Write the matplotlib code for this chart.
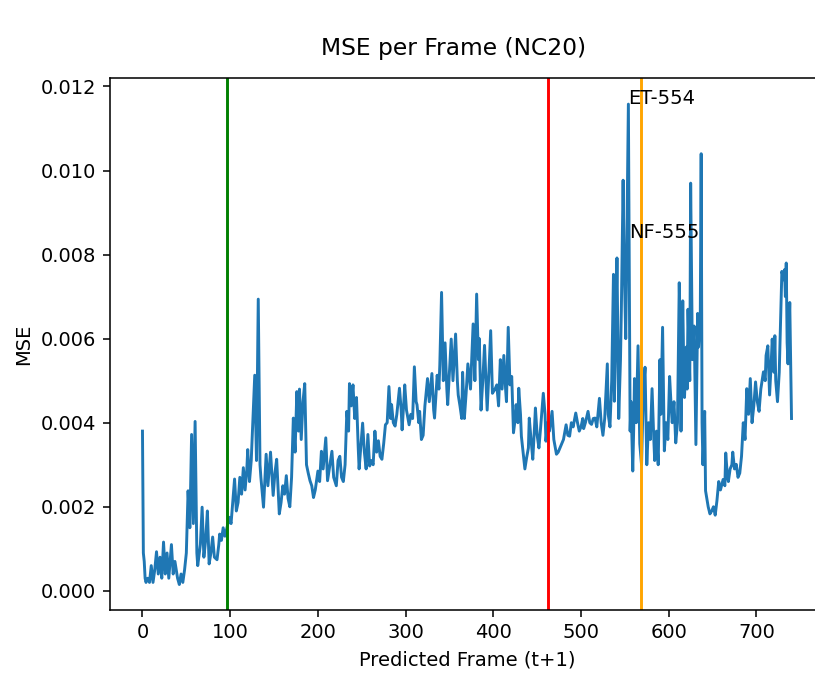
import matplotlib
matplotlib.use('Agg')
import matplotlib.pyplot as plt

# 读取的数据点 (frame, MSE)
frames = [0, 1, 2, 3, 4, 6, 8, 10, 12, 14, 16, 18, 20, 22, 24, 26, 28, 30, 33, 35,
          37, 40, 42, 44, 46, 48, 50, 52, 54, 56, 58, 60, 62, 63, 66, 68, 70, 72, 74, 76,
          78, 80, 82, 85, 87, 88, 90, 92, 94, 96, 99, 101, 105, 107, 109, 111, 113, 115, 117, 119,
          120, 122, 124, 128, 130, 132, 134, 135, 138, 141, 143, 146, 149, 151, 153, 156, 158, 160, 162, 164,
          166, 168, 170, 172, 174, 176, 178, 179, 181, 183, 185, 187, 189, 191, 193, 195, 197, 200, 202, 204,
          206, 209, 211, 213, 216, 218, 221, 223, 225, 227, 229, 231, 233, 235, 236, 238, 240, 242, 244, 246,
          247, 251, 253, 255, 257, 259, 261, 263, 265, 267, 269, 271, 273, 275, 277, 279, 281, 283, 284, 286,
          288, 290, 293, 295, 296, 298, 299, 301, 304, 306, 308, 310, 312, 313, 315, 316, 318, 320, 322, 325,
          327, 330, 332, 333, 336, 338, 339, 341, 343, 345, 347, 348, 350, 352, 354, 357, 359, 360, 362, 364,
          365, 367, 369, 371, 374, 377, 379, 381, 383, 384, 386, 388, 390, 392, 393, 395, 397, 399, 402, 404,
          406, 408, 410, 412, 414, 415, 417, 419, 421, 423, 425, 426, 428, 429, 431, 432, 434, 436, 438, 440,
          441, 443, 445, 447, 448, 450, 452, 454, 457, 459, 460, 462, 464, 467, 469, 472, 474, 476, 478, 480,
          483, 485, 487, 489, 491, 494, 496, 498, 500, 502, 503, 505, 508, 510, 512, 514, 516, 518, 521, 523,
          525, 527, 530, 531, 533, 535, 537, 538, 540, 541, 543, 545, 546, 548, 549, 551, 552, 554, 556, 557,
          559, 560, 561, 563, 565, 567, 569, 571, 573, 575, 577, 579, 581, 583, 584, 586, 588, 590, 591, 593,
          595, 597, 599, 601, 603, 604, 606, 608, 610, 612, 613, 614, 616, 617, 618, 620, 621, 622, 624, 625,
          627, 629, 631, 633, 634, 636, 637, 638, 639, 641, 642, 645, 647, 649, 651, 653, 655, 657, 659, 662,
          664, 665, 667, 668, 670, 672, 673, 675, 677, 679, 681, 683, 685, 687, 689, 691, 693, 695, 697, 699,
          701, 703, 705, 708, 710, 711, 713, 715, 717, 718, 720, 721, 722, 724, 726, 729, 731, 732, 733, 734,
          735, 736, 738, 740]
mse = [0.0038, 0.0009, 0.0007, 0.0003, 0.0002, 0.0003, 0.0002, 0.0006, 0.0002, 0.0005,
       0.00093, 0.0004, 0.0008, 0.0003, 0.00116, 0.0004, 0.0009, 0.0003, 0.0011, 0.0004,
       0.0007, 0.0003, 0.00015, 0.0004, 0.0002, 0.0005, 0.0009, 0.00238, 0.0015, 0.00372,
       0.0016, 0.00403, 0.0009, 0.0006, 0.0011, 0.00199, 0.0008, 0.0012, 0.0019, 0.00064,
       0.0009, 0.00128, 0.0008, 0.00074, 0.0011, 0.00135, 0.0012, 0.0015, 0.0013, 0.00147,
       0.00175, 0.0016, 0.00266, 0.0019, 0.0021, 0.0027, 0.0023, 0.00293, 0.0024, 0.0029,
       0.00336, 0.0026, 0.0031, 0.00513, 0.0031, 0.00694, 0.0030, 0.0027, 0.00199, 0.00325,
       0.0025, 0.0033, 0.00227, 0.0028, 0.00313, 0.00183, 0.0021, 0.0025, 0.0023, 0.00274,
       0.0022, 0.0020, 0.0027, 0.00411, 0.0033, 0.00474, 0.0038, 0.0048, 0.0036, 0.0045,
       0.00493, 0.0030, 0.0028, 0.00262, 0.0025, 0.00222, 0.0024, 0.00285, 0.0026, 0.00332,
       0.0029, 0.00364, 0.00262, 0.0029, 0.00332, 0.0027, 0.0025, 0.0031, 0.0032, 0.0027,
       0.0026, 0.0030, 0.00427, 0.0038, 0.00493, 0.0044, 0.0049, 0.0041, 0.0046, 0.0034,
       0.0029, 0.00399, 0.0033, 0.0029, 0.00372, 0.00297, 0.0031, 0.0030, 0.0038, 0.0033,
       0.00357, 0.0032, 0.00313, 0.0035, 0.00395, 0.0040, 0.00486, 0.0041, 0.00443, 0.0040,
       0.00392, 0.0042, 0.00482, 0.0043, 0.00383, 0.0045, 0.0049, 0.0043, 0.00395, 0.0042,
       0.0041, 0.00533, 0.0045, 0.00443, 0.0040, 0.00427, 0.0036, 0.0037, 0.0044, 0.00505,
       0.0045, 0.00517, 0.0043, 0.00411, 0.00513, 0.0048, 0.00537, 0.0071, 0.0050, 0.0059,
       0.0048, 0.00443, 0.0052, 0.00599, 0.0050, 0.00611, 0.0050, 0.00466, 0.0044, 0.0041,
       0.0052, 0.0041, 0.0047, 0.0054, 0.0048, 0.00635, 0.0050, 0.00706, 0.0055, 0.0060,
       0.0043, 0.0050, 0.00584, 0.0048, 0.0043, 0.0052, 0.00619, 0.0047, 0.0048, 0.0049,
       0.0044, 0.0055, 0.0048, 0.0056, 0.0048, 0.0045, 0.00627, 0.0049, 0.0051, 0.00376,
       0.0041, 0.00443, 0.0040, 0.00482, 0.0042, 0.00368, 0.0033, 0.0029, 0.00317, 0.0034,
       0.00411, 0.0036, 0.00313, 0.0039, 0.00435, 0.0037, 0.0034, 0.0039, 0.0047, 0.0042,
       0.00356, 0.0040, 0.0038, 0.00427, 0.0036, 0.00325, 0.0033, 0.0034, 0.0035, 0.0036,
       0.00395, 0.0037, 0.00368, 0.0040, 0.0039, 0.00423, 0.0040, 0.0038, 0.0039, 0.0041,
       0.00386, 0.0040, 0.00427, 0.0040, 0.00396, 0.0041, 0.00411, 0.0039, 0.00458, 0.0040,
       0.0037, 0.0041, 0.0054, 0.0042, 0.0039, 0.0050, 0.00753, 0.00451, 0.0065, 0.00792,
       0.0041, 0.0055, 0.0067, 0.00977, 0.0080, 0.0060, 0.0078, 0.01158, 0.0038, 0.0045,
       0.00285, 0.0038, 0.00505, 0.0040, 0.00583, 0.0035, 0.0030, 0.0047, 0.00532, 0.0030,
       0.0040, 0.0036, 0.00481, 0.0036, 0.0031, 0.0038, 0.0030, 0.0055, 0.0042, 0.00627,
       0.00333, 0.0040, 0.0036, 0.0051, 0.0043, 0.0040, 0.0045, 0.00352, 0.0040, 0.00733,
       0.0062, 0.0038, 0.0069, 0.0055, 0.0046, 0.0058, 0.0048, 0.0067, 0.0050, 0.0097,
       0.0055, 0.0063, 0.00348, 0.0066, 0.0058, 0.0066, 0.0104, 0.0040, 0.0030, 0.00427,
       0.00238, 0.0020, 0.00183, 0.0019, 0.0020, 0.0018, 0.00215, 0.0026, 0.0024, 0.00265,
       0.0025, 0.00328, 0.0027, 0.0026, 0.0029, 0.0030, 0.0033, 0.0029, 0.00301, 0.0027,
       0.0028, 0.0032, 0.0040, 0.0036, 0.00481, 0.0042, 0.00505, 0.0040, 0.0044, 0.00497,
       0.0045, 0.00427, 0.0048, 0.00521, 0.0050, 0.0056, 0.00583, 0.00466, 0.0055, 0.00599,
       0.0052, 0.00607, 0.0050, 0.0045, 0.0052, 0.0076, 0.0074, 0.00764, 0.0070, 0.0078,
       0.0059, 0.0054, 0.00686, 0.0041]

# 竖线位置与标注
vlines = [96, 462, 568]
vline_colors = ['green', 'red', 'orange']
notes = ['ET-554', 'NF-555']
note_x = [553.5, 554.5]
note_y = [0.01158, 0.0084]

fig = plt.figure(figsize=(815 / 140, 673 / 140), dpi=140)
ax = fig.add_axes([0.135, 0.094, 0.876, 0.79])

ax.plot(frames, mse)
for xv, c in zip(vlines, vline_colors):
    ax.axvline(xv, color=c)
for t, xt, yt in zip(notes, note_x, note_y):
    ax.text(xt, yt, t)

ax.set_xlim(-37, 777)
ax.set_ylim(-0.00045, 0.0122)
ax.set_xticks([0, 100, 200, 300, 400, 500, 600, 700])
ax.set_xlabel('Predicted Frame (t+1)')
ax.set_ylabel('MSE')
fig.text(454 / 815, 1 - 48 / 673, 'MSE per Frame (NC20)', ha='center', va='center', fontsize=12)

fig.savefig('out.png', dpi=140)
